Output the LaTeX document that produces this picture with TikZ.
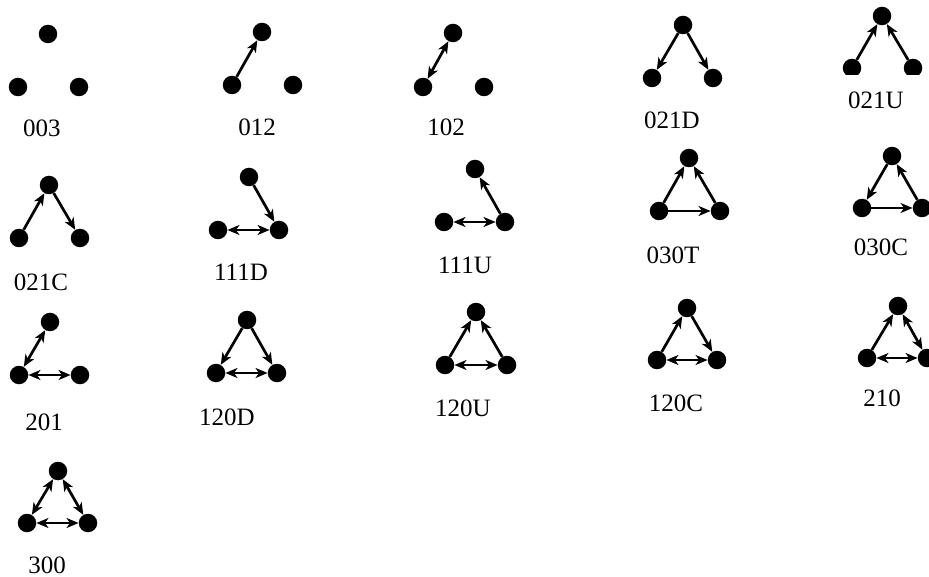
\documentclass[tikz,border=0pt]{standalone}
\usepackage{fontspec}
\setmainfont{Liberation Serif}
\usetikzlibrary{arrows.meta}
\tikzset{
  v/.style={circle,fill=black,inner sep=0pt,minimum size=18.5pt},
  lab/.style={inner sep=0pt,font=\fontsize{25}{30}\selectfont},
  tipstyle/.tip={Stealth[length=12pt,width=10pt,inset=3.5pt]},
  e/.style={line width=2.7pt,-tipstyle},
  ee/.style={line width=2.7pt,tipstyle-tipstyle}
}
\newcommand\triadnodes[5]{%
  \node[v] (t#1T) at (#2) {};
  \node[v] (t#1L) at (#3) {};
  \node[v] (t#1R) at (#4) {};
  \node[lab] (t#1N) at (#5) {#1};
}
\begin{document}
\begin{tikzpicture}[x=1pt,y=-1pt]
\useasboundingbox (0,0) rectangle (929,577);

% row 1
\triadnodes{003}{48,34}{18,87}{79,87}{42,128}

\triadnodes{012}{262,32}{232,85}{293,85}{257,127}
\draw[e] (t012L) -- (t012T);

\triadnodes{102}{453,33}{423,87}{484,87}{446,127}
\draw[ee] (t102L) -- (t102T);

\triadnodes{021D}{683,25}{652,78}{713,78}{672,120}
\draw[e] (t021DT) -- (t021DL);
\draw[e] (t021DT) -- (t021DR);

\begin{scope}
\clip (790,0) rectangle (929,75);
\node[v] (t021UT) at (882,16) {};
\node[v] (t021UL) at (852,68) {};
\node[v] (t021UR) at (913,68) {};
\draw[e] (t021UL) -- (t021UT);
\draw[e] (t021UR) -- (t021UT);
\end{scope}
\node[lab] (t021UN) at (876,100) {021U};

% row 2
\triadnodes{021C}{49,185}{19,238}{80,238}{41,282}
\draw[e] (t021CL) -- (t021CT);
\draw[e] (t021CT) -- (t021CR);

\triadnodes{111D}{249,177}{218,230}{279,230}{241,272}
\draw[e] (t111DT) -- (t111DR);
\draw[ee] (t111DL) -- (t111DR);

\triadnodes{111U}{475,169}{444,222}{505,222}{465,265}
\draw[e] (t111UR) -- (t111UT);
\draw[ee] (t111UL) -- (t111UR);

\triadnodes{030T}{689,158}{659,211}{720,211}{673,255}
\draw[e] (t030TL) -- (t030TT);
\draw[e] (t030TR) -- (t030TT);
\draw[e] (t030TL) -- (t030TR);

\triadnodes{030C}{892,156}{862,208}{922,208}{881,247}
\draw[e] (t030CT) -- (t030CL);
\draw[e] (t030CL) -- (t030CR);
\draw[e] (t030CR) -- (t030CT);

% row 3
\triadnodes{201}{50,322}{19,375}{80,375}{44,422}
\draw[ee] (t201T) -- (t201L);
\draw[ee] (t201L) -- (t201R);

\triadnodes{120D}{247,320}{216,373}{277,373}{227,417}
\draw[e] (t120DT) -- (t120DL);
\draw[e] (t120DT) -- (t120DR);
\draw[ee] (t120DL) -- (t120DR);

\triadnodes{120U}{476,312}{445,365}{507,365}{463,408}
\draw[e] (t120UL) -- (t120UT);
\draw[e] (t120UR) -- (t120UT);
\draw[ee] (t120UL) -- (t120UR);

\triadnodes{120C}{687,308}{657,360}{717,360}{676,403}
\draw[e] (t120CL) -- (t120CT);
\draw[e] (t120CT) -- (t120CR);
\draw[ee] (t120CL) -- (t120CR);

\triadnodes{210}{898,306}{867,358}{927,358}{882,398}
\draw[e] (t210L) -- (t210T);
\draw[ee] (t210T) -- (t210R);
\draw[ee] (t210L) -- (t210R);

% row 4
\triadnodes{300}{58,471}{27,523}{88,523}{47,565}
\draw[ee] (t300T) -- (t300L);
\draw[ee] (t300T) -- (t300R);
\draw[ee] (t300L) -- (t300R);

\end{tikzpicture}
\end{document}
